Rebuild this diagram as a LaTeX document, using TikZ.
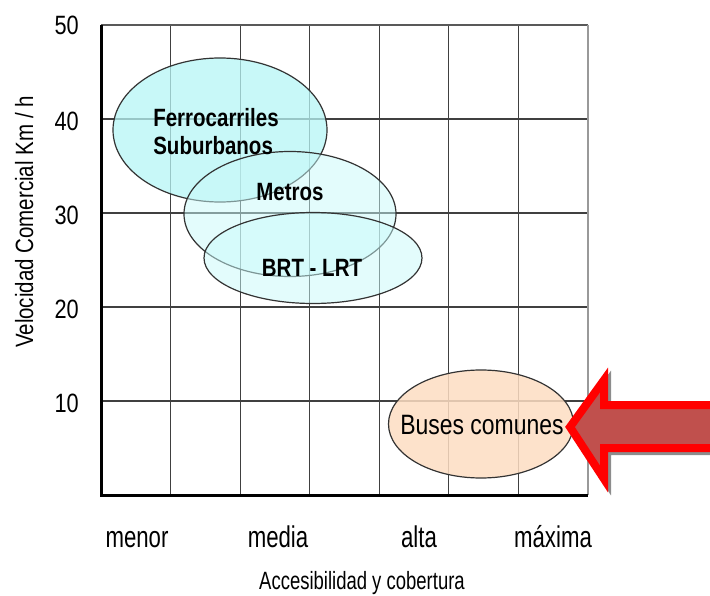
\documentclass[tikz,border=0pt]{standalone}
\usepackage{fontspec}
\setmainfont{Liberation Sans}[FakeStretch=0.82]
\newfontfamily\condensedsans{Liberation Sans}[FakeStretch=0.74]
\usetikzlibrary{shapes.geometric}

\definecolor{ferrofill}{HTML}{B6F5F5}
\definecolor{metrofill}{HTML}{C8FAFA}
\definecolor{busfill}{HTML}{FDDDC2}
\definecolor{arrowfill}{HTML}{C0504D}
\newcommand\busarrowpath{(570,427) -- (604,380) -- (604,405) -- (720,405) -- (720,448) -- (604,448) -- (604,479) -- cycle}

\begin{document}
\begin{tikzpicture}[x=1pt,y=-1pt,
  gridline/.style={draw=black!75, line width=1.2pt},
  axisline/.style={draw=black, line width=3pt, line join=miter},
  ticklabel/.style={font=\fontsize{26.5}{26.5}\selectfont, anchor=east, inner sep=0pt},
  xcat/.style={font=\condensedsans\fontsize{30}{30}\selectfont, anchor=base, inner sep=0pt},
  zone/.style={ellipse, draw=black!80, line width=1.2pt, inner sep=0pt},
  zonetxt/.style={font=\fontsize{25}{28}\selectfont\bfseries, inner sep=0pt, align=left},
]
\useasboundingbox (0,0) rectangle (710,596);
\clip (0,0) rectangle (710,596);

% grid
\foreach \i in {1,...,6}
  \draw[gridline] ({101+69.57*\i},25) -- ({101+69.57*\i},495);
\foreach \j in {1,...,4}
  \draw[gridline] (101,{25+94*\j}) -- (588,{25+94*\j});
\draw[black!65, line width=2pt] (101,25) -- (588,25);
\draw[black!40, line width=2.5pt] (588,25) -- (588,495);
\draw[axisline] (101,25) -- (101,495) -- (588,495);

% value labels
\foreach \v/\y in {50/25,40/121,30/215,20/309,10/403}
  \node[ticklabel] (t\v) at (79,\y) {\v};

% category labels
\node[xcat] (menor)  at (137,547) {menor};
\node[xcat] (media)  at (278,547) {media};
\node[xcat] (alta)   at (419,547) {alta};
\node[xcat] (maxima) at (553,547) {máxima};
\node[font=\condensedsans\fontsize{25}{25}\selectfont, anchor=base, inner sep=0pt] (xtitle) at (362,589) {Accesibilidad y cobertura};
\node[font=\fontsize{25}{25}\selectfont, anchor=base, inner sep=0pt, rotate=90] (ytitle) at (33,222) {Velocidad Comercial Km / h};

% zones
\node[zone, fill=ferrofill, fill opacity=0.75, minimum width=214pt, minimum height=144pt] (ferro) at (220,130) {};
\node[zone, fill=metrofill, fill opacity=0.5, minimum width=212pt, minimum height=125pt] (metro) at (290,214) {};
\node[zone, fill=metrofill, fill opacity=0.5, minimum width=218pt, minimum height=91pt] (brt) at (313,258) {};
\node[zone, fill=busfill, fill opacity=0.85, minimum width=185pt, minimum height=108pt] (buses) at (481,424) {};

\node[zonetxt] (ferrotxt) at (216,132) {Ferrocarriles\\Suburbanos};
\node[zonetxt] (metrotxt) at (290,192) {Metros};
\node[zonetxt] (brttxt) at (312,268) {BRT - LRT};
\node[font=\fontsize{28}{28}\selectfont, inner sep=0pt] (bustxt) at (482,425) {Buses comunes};

% pointer arrow with drop shadow
\draw[black!45, line width=8pt, line join=miter, miter limit=10, xshift=3pt, yshift=-3pt] \busarrowpath;
\draw[red, fill=arrowfill, line width=8pt, line join=miter, miter limit=10] \busarrowpath;
\end{tikzpicture}
\end{document}
